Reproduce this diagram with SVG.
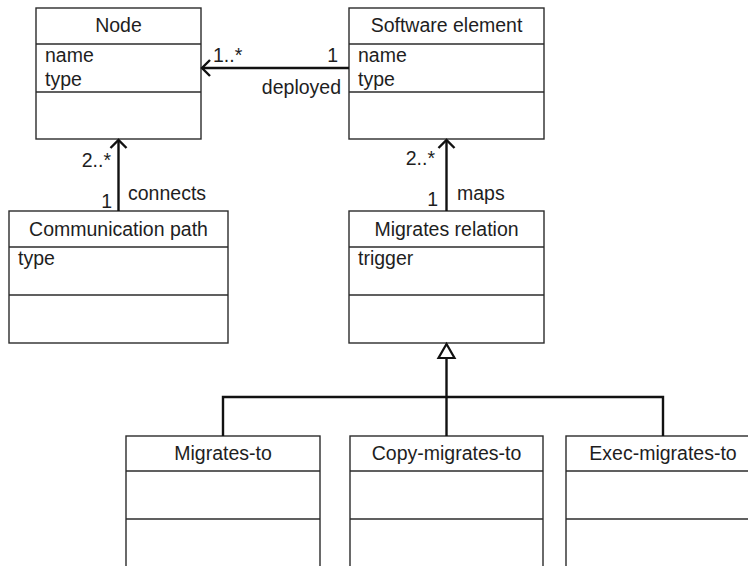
<svg xmlns="http://www.w3.org/2000/svg" width="748" height="566" viewBox="0 0 748 566">
  <style>
    .box { fill: #ffffff; stroke: #2b2b2b; stroke-width: 1.4; }
    .div { stroke: #2b2b2b; stroke-width: 1.4; fill: none; }
    text { font-family: "Liberation Sans", Arial, sans-serif; font-size: 19.5px; fill: #1e1e1e; }
    .title { text-anchor: middle; }
    .end { text-anchor: end; }
    .conn { stroke: #111111; stroke-width: 2.4; fill: none; }
    .open { stroke: #111111; stroke-width: 2.4; fill: none; stroke-linejoin: miter; }
    .gen { stroke: #111111; stroke-width: 2.2; fill: #ffffff; stroke-linejoin: miter; }
  </style>
  <defs>
    <!-- open chevron drawn at the target end -->
    <marker id="openArrow" viewBox="0 0 12 20" refX="10" refY="10" markerWidth="12" markerHeight="20" markerUnits="userSpaceOnUse" orient="auto">
      <path d="M2 2 L10 10 L2 18" class="open"/>
    </marker>
  </defs>

  <!-- class boxes -->
  <g id="node-node">
    <rect class="box" x="36" y="8" width="165" height="131"/>
    <line class="div" x1="36" y1="44" x2="201" y2="44"/>
    <line class="div" x1="36" y1="92" x2="201" y2="92"/>
    <text class="title" x="118.5" y="32">Node</text>
    <text x="45" y="62">name</text>
    <text x="45" y="86">type</text>
  </g>

  <g id="node-software-element">
    <rect class="box" x="349" y="8" width="195" height="131"/>
    <line class="div" x1="349" y1="44" x2="544" y2="44"/>
    <line class="div" x1="349" y1="92" x2="544" y2="92"/>
    <text class="title" x="446.5" y="32">Software element</text>
    <text x="358" y="62">name</text>
    <text x="358" y="86">type</text>
  </g>

  <g id="node-communication-path">
    <rect class="box" x="9" y="211" width="219" height="132"/>
    <line class="div" x1="9" y1="247" x2="228" y2="247"/>
    <line class="div" x1="9" y1="295" x2="228" y2="295"/>
    <text class="title" x="118.5" y="236">Communication path</text>
    <text x="18" y="265">type</text>
  </g>

  <g id="node-migrates-relation">
    <rect class="box" x="349" y="211" width="195" height="132"/>
    <line class="div" x1="349" y1="247" x2="544" y2="247"/>
    <line class="div" x1="349" y1="295" x2="544" y2="295"/>
    <text class="title" x="446.5" y="236">Migrates relation</text>
    <text x="358" y="265">trigger</text>
  </g>

  <g id="node-migrates-to">
    <rect class="box" x="126" y="436" width="194" height="150"/>
    <line class="div" x1="126" y1="471" x2="320" y2="471"/>
    <line class="div" x1="126" y1="519" x2="320" y2="519"/>
    <text class="title" x="223" y="460">Migrates-to</text>
  </g>

  <g id="node-copy-migrates-to">
    <rect class="box" x="350" y="436" width="193" height="150"/>
    <line class="div" x1="350" y1="471" x2="543" y2="471"/>
    <line class="div" x1="350" y1="519" x2="543" y2="519"/>
    <text class="title" x="446.5" y="460">Copy-migrates-to</text>
  </g>

  <g id="node-exec-migrates-to">
    <rect class="box" x="566" y="436" width="194" height="150"/>
    <line class="div" x1="566" y1="471" x2="760" y2="471"/>
    <line class="div" x1="566" y1="519" x2="760" y2="519"/>
    <text class="title" x="663" y="460">Exec-migrates-to</text>
  </g>

  <!-- connectors -->
  <g id="connectors">
    <!-- deployed: Software element -> Node -->
    <line class="conn" x1="349" y1="68" x2="202" y2="68" marker-end="url(#openArrow)"/>
    <text x="213" y="62">1..*</text>
    <text class="end" x="338" y="62">1</text>
    <text class="end" x="341" y="94">deployed</text>

    <!-- connects: Communication path -> Node -->
    <line class="conn" x1="118.5" y1="211" x2="118.5" y2="140" marker-end="url(#openArrow)"/>
    <text class="end" x="111" y="167">2..*</text>
    <text class="end" x="112" y="208">1</text>
    <text x="128" y="200">connects</text>

    <!-- maps: Migrates relation -> Software element -->
    <line class="conn" x1="446.5" y1="211" x2="446.5" y2="140" marker-end="url(#openArrow)"/>
    <text class="end" x="435" y="165">2..*</text>
    <text class="end" x="438" y="206">1</text>
    <text x="457" y="200">maps</text>

    <!-- generalization tree -->
    <polyline class="conn" points="223,436 223,397 663,397 663,436"/>
    <line class="conn" x1="446.5" y1="436" x2="446.5" y2="358"/>
    <polygon class="gen" points="446.5,344 438.5,358 454.5,358"/>
  </g>
</svg>
